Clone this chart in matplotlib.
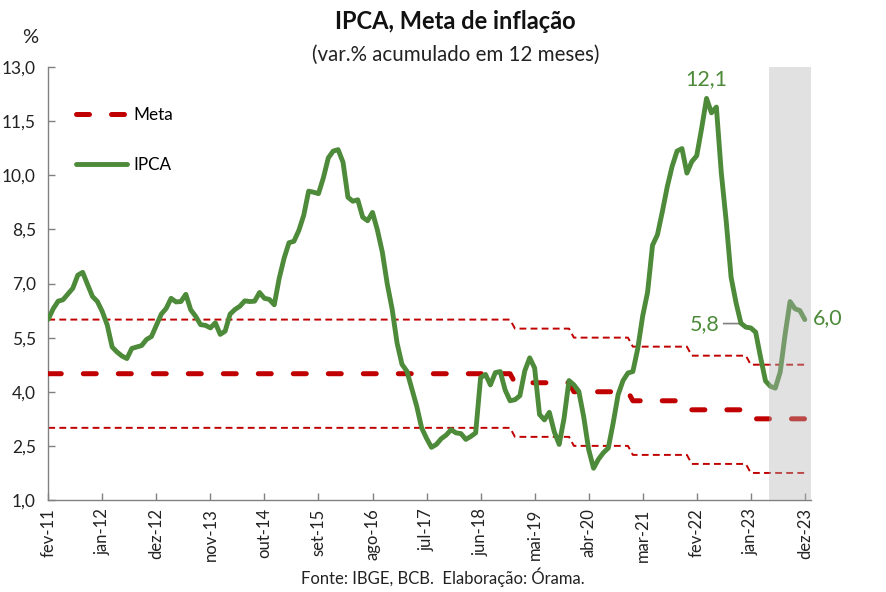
import numpy as np
import matplotlib
matplotlib.use('Agg')
import matplotlib.pyplot as plt

# IPCA acumulado em 12 meses, fev-11 a dez-23 (mensal)
ipca_2011 = [6.01, 6.30, 6.51, 6.55, 6.71, 6.87, 7.23, 7.31, 6.97, 6.64, 6.50]
ipca_2012 = [6.22, 5.85, 5.24, 5.10, 4.99, 4.92, 5.20, 5.24, 5.28, 5.45, 5.53, 5.84]
ipca_2013 = [6.15, 6.31, 6.59, 6.49, 6.50, 6.70, 6.27, 6.09, 5.86, 5.84, 5.77, 5.91]
ipca_2014 = [5.59, 5.68, 6.15, 6.28, 6.37, 6.52, 6.50, 6.51, 6.75, 6.59, 6.56, 6.41]
ipca_2015 = [7.14, 7.70, 8.13, 8.17, 8.47, 8.89, 9.56, 9.53, 9.49, 9.93, 10.48, 10.67]
ipca_2016 = [10.71, 10.36, 9.39, 9.28, 9.32, 8.84, 8.74, 8.97, 8.48, 7.87, 6.99, 6.29]
ipca_2017 = [5.35, 4.76, 4.57, 4.08, 3.60, 3.00, 2.71, 2.46, 2.54, 2.70, 2.80, 2.95]
ipca_2018 = [2.86, 2.84, 2.68, 2.76, 2.86, 4.39, 4.48, 4.19, 4.53, 4.56, 4.05, 3.75]
ipca_2019 = [3.78, 3.89, 4.58, 4.94, 4.66, 3.37, 3.22, 3.43, 2.89, 2.54, 3.27, 4.31]
ipca_2020 = [4.19, 4.01, 3.30, 2.40, 1.88, 2.13, 2.31, 2.44, 3.14, 3.92, 4.31, 4.52]
ipca_2021 = [4.56, 5.20, 6.10, 6.76, 8.06, 8.35, 8.99, 9.68, 10.25, 10.67, 10.74, 10.06]
ipca_2022 = [10.38, 10.54, 11.30, 12.13, 11.73, 11.89, 10.07, 8.73, 7.17, 6.47, 5.90, 5.79]
ipca_2023 = [5.77, 5.65, 4.95, 4.30, 4.15, 4.10, 4.55, 5.60, 6.50, 6.30, 6.25, 6.00]

# meta anual e tolerancia
anos = [2011, 2012, 2013, 2014, 2015, 2016, 2017, 2018, 2019, 2020, 2021, 2022, 2023]
meta_anual = [4.5, 4.5, 4.5, 4.5, 4.5, 4.5, 4.5, 4.5, 4.25, 4.0, 3.75, 3.5, 3.25]
tolerancia = [1.5] * 13

rotulos_x = ['fev-11', 'jan-12', 'dez-12', 'nov-13', 'out-14', 'set-15', 'ago-16',
             'jul-17', 'jun-18', 'mai-19', 'abr-20', 'mar-21', 'fev-22', 'jan-23', 'dez-23']
inicio_projecao = 146.8  # mes (indice) em que comeca a area cinza

# montagem das series mensais
ipca = np.array(ipca_2011 + ipca_2012 + ipca_2013 + ipca_2014 + ipca_2015 + ipca_2016 +
                ipca_2017 + ipca_2018 + ipca_2019 + ipca_2020 + ipca_2021 + ipca_2022 + ipca_2023)
meses_por_ano = [11] + [12] * 12
meta = np.repeat(meta_anual, meses_por_ano)
sup = np.repeat(np.array(meta_anual) + np.array(tolerancia), meses_por_ano)
inf = np.repeat(np.array(meta_anual) - np.array(tolerancia), meses_por_ano)
x = np.arange(len(ipca))

plt.rcParams['font.family'] = ['Lato', 'DejaVu Sans']

verde = '#4d8a39'
vermelho = '#c00000'

fig = plt.figure(figsize=(8.86, 5.92), dpi=100)
ax = fig.add_axes([0.0545, 0.1554, 0.8605, 0.7314])

ax.plot(x, sup, color=vermelho, lw=1.4, dashes=(3.5, 2.2), zorder=2)
ax.plot(x, inf, color=vermelho, lw=1.4, dashes=(3.5, 2.2), zorder=2)
ax.plot(x, meta, color=vermelho, lw=3.6, dashes=(2.6, 4.4), dash_capstyle='round',
        zorder=3, label='Meta')
ax.plot(x, ipca, color=verde, lw=3.5, solid_capstyle='round', solid_joinstyle='round',
        zorder=4, label='IPCA')

# area de projecao (cinza translucido por cima das linhas)
ax.axvspan(inicio_projecao, 155.2, color='#b4b4b4', alpha=0.4, lw=0, zorder=5)

# rotulos
i_max = int(np.argmax(ipca))
ax.text(x[i_max], ipca[i_max] + 0.25, '12,1', color=verde, fontsize=15.5,
        ha='center', va='bottom')
i_jan23 = 143
ax.plot([x[i_jan23] - 5.5, x[i_jan23] - 2.5, x[i_jan23]],
        [ipca[i_jan23] + 0.12, ipca[i_jan23] + 0.12, ipca[i_jan23]],
        color='#808080', lw=1.2, zorder=3)
ax.text(x[i_jan23] - 6.3, ipca[i_jan23] + 0.1, '5,8', color=verde, fontsize=15.5,
        ha='right', va='center')
ax.text(x[-1] + 1.6, ipca[-1] + 0.05, '6,0', color=verde, fontsize=15.5,
        ha='left', va='center')

ax.set_xlim(0, 155.2)
ax.set_ylim(1, 13)
ax.set_xticks(np.arange(0, 155, 11))
ax.set_xticklabels(rotulos_x, rotation=90, fontsize=12, color='#222222')
yt = np.arange(1.0, 13.01, 1.5)
ax.set_yticks(yt)
ax.set_yticklabels([f'{v:.1f}'.replace('.', ',') for v in yt], fontsize=12.5, color='#222222')
ax.tick_params(axis='both', direction='in', length=5, color='#808080', width=1)
ax.tick_params(axis='y', pad=9)
ax.tick_params(axis='x', pad=6)
for s in ['top', 'right']:
    ax.spines[s].set_visible(False)
for s in ['left', 'bottom']:
    ax.spines[s].set_color('#808080')
    ax.spines[s].set_linewidth(1)

leg = ax.legend(loc='upper left', bbox_to_anchor=(0.025, 0.928), frameon=False,
                fontsize=12.3, handlelength=3.0, handletextpad=0.35, labelspacing=2.0,
                borderpad=0)

fig.text(0.034, 0.937, '%', fontsize=14.5, ha='center', va='center', color='#222222')
fig.text(0.514, 0.964, 'IPCA, Meta de inflação', fontsize=17, fontweight='bold',
         ha='center', va='center', color='#111111')
fig.text(0.514, 0.907, '(var.% acumulado em 12 meses)', fontsize=14.8,
         ha='center', va='center', color='#222222')
fig.text(0.5, 0.025, 'Fonte: IBGE, BCB.  Elaboração: Órama.', fontsize=12,
         ha='center', va='center', color='#222222')

fig.savefig('out.png', dpi=100)
